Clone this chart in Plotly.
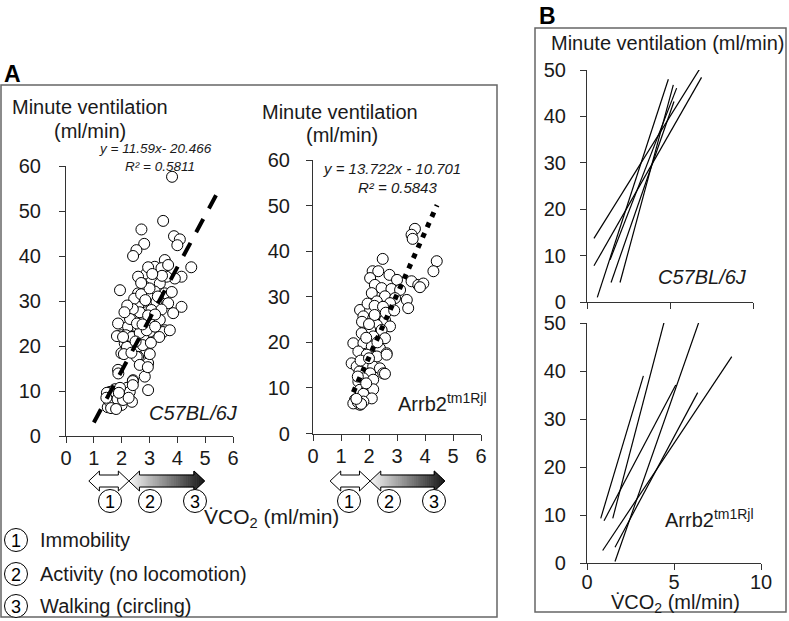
import plotly.graph_objects as go

W, H = 789, 621
FONT = "Liberation Sans, Arial, sans-serif"

# ---------------- data ----------------
wt_x = [3.81,3.49,2.71,2.81,2.53,2.41,3.88,4.09,4.00,1.94,4.50,3.55,3.19,3.43,3.67,2.89,4.15,3.91,3.61,2.59,
        3.07,3.37,2.83,2.59,3.19,3.55,2.95,2.77,3.25,3.67,2.59,3.07,3.43,4.15,3.85,2.47,2.83,3.13,3.37,1.87,
        2.23,2.59,3.55,3.01,1.99,2.35,2.77,2.11,2.59,2.23,2.89,1.99,2.59,2.95,2.83,1.87,1.88,2.41,2.95,
        1.83,2.15,2.37,2.65,2.90,3.48,3.73,2.19,2.08,2.54,2.76,3.01,2.65,2.94,2.40,
        1.58,1.76,1.47,1.65,1.50,1.68,2.00,2.37,2.11,2.19,2.29,2.40,1.94,1.72,1.55,1.85,2.05,1.62,1.80,2.25,1.90,1.45,
        2.45,2.70,2.85,3.00,3.30,2.65,2.95,3.20,2.40,2.30,2.55,2.75,3.20,2.50,2.35,2.70,3.45,2.95,3.10,3.80,2.20,2.10,2.05,3.35,3.05]
wt_y = [57.6,47.8,45.9,42.7,41.3,40.0,44.4,43.7,42.4,32.4,37.5,39.1,37.6,37.3,38.0,36.1,35.4,35.0,35.4,35.4,
        34.3,33.9,33.2,31.7,32.1,31.7,31.0,29.8,29.8,29.5,28.7,28.0,28.1,28.7,27.3,26.5,26.5,26.1,25.8,25.0,
        24.3,23.9,23.5,23.2,22.4,22.1,22.1,20.6,19.8,19.1,18.7,18.4,17.6,16.2,13.2,14.7,13.9,12.4,10.2,
        22.2,22.4,22.0,22.9,23.5,23.1,23.5,19.8,18.2,17.6,20.2,18.2,15.8,15.3,12.2,
        9.8,10.4,9.6,8.4,6.4,7.3,6.9,7.6,9.1,10.7,9.8,11.3,10.7,9.0,7.8,8.2,8.0,6.2,6.0,8.5,9.6,8.5,
        30.5,31.5,30.2,32.8,31.0,27.5,26.8,27.0,28.2,26.0,25.0,24.8,24.3,21.0,18.5,34.0,35.6,37.5,36.0,32.0,29.0,27.5,22.0,22.0,20.7]

ko_x = [3.64,3.52,3.56,2.49,4.42,4.30,2.13,2.33,2.73,3.00,3.52,3.76,3.94,3.82,2.04,2.21,2.45,2.80,3.11,2.10,
        2.57,2.93,3.35,2.28,2.75,3.40,1.68,2.04,2.39,1.80,2.15,2.57,1.86,2.28,2.75,2.04,2.45,1.74,2.15,2.57,
        1.44,1.80,2.10,2.39,2.63,1.62,1.92,2.28,1.38,1.56,1.84,2.15,2.39,1.66,2.04,2.51,1.80,2.15,1.62,1.68,
        1.92,2.15,1.80,2.10,1.50,1.56,1.68,1.44,1.80,2.63,2.57,
        1.95,2.20,2.50,1.90,2.30,1.70,2.00,1.60,1.90,2.20,2.60,2.90,1.75,2.00,1.60,1.72,1.55]
ko_y = [44.9,43.6,42.7,38.3,37.8,35.6,35.6,35.6,34.8,33.7,33.4,32.6,32.9,32.1,34.1,32.6,31.9,31.7,31.5,30.8,
        30.1,29.7,29.3,29.0,28.6,27.5,27.1,27.1,26.8,25.7,25.3,24.9,23.8,23.8,23.5,22.7,22.7,22.0,21.3,20.9,
        19.8,19.8,19.1,18.7,17.6,18.0,17.3,16.9,15.4,14.7,15.1,14.7,14.3,13.6,13.2,13.2,12.1,11.8,11.4,9.6,
        9.6,9.7,8.7,7.7,7.4,6.6,6.3,6.6,7.0,17.3,13.1,
        28.5,28.0,27.8,21.0,20.0,16.0,16.5,12.5,11.0,26.0,26.5,27.0,24.5,24.0,6.9,6.5,7.6]

wt_trend_x = [1.0, 5.4]
wt_trend_y = [3.0, 53.6]
ko_trend_x = [1.44, 4.43]
ko_trend_y = [9.06, 50.1]

wt_eq = ["y = 11.59x- 20.466", "R² = 0.5811"]
ko_eq = ["y = 13.722x - 10.701", "R² = 0.5843"]

# individual regression lines (panel B): [x_start, x_end], [y_start, y_end]
wt_lines_x = [[0.42, 6.8], [0.42, 6.9], [0.62, 4.9], [1.39, 5.4], [1.45, 5.24], [1.99, 5.2]]
wt_lines_y = [[13.7, 50.3], [7.8, 48.4], [1.0, 48.0], [9.1, 46.1], [4.2, 43.2], [4.2, 46.8]]
ko_lines_x = [[0.79, 3.24], [1.48, 4.44], [0.98, 5.1], [1.61, 6.44], [0.90, 8.32], [1.61, 6.36]]
ko_lines_y = [[9.3, 39.0], [9.3, 50.3], [8.8, 37.1], [0.3, 50.3], [2.6, 43.0], [3.3, 35.5]]

# behaviour ranges of VCO2 shown by arrows under panel A
wt_immob = [0.82, 2.26]
wt_active = [2.26, 4.98]
ko_immob = [0.61, 2.04]
ko_active = [2.04, 4.71]

ticks_A = [0, 1, 2, 3, 4, 5, 6]
yticks_A = [0, 10, 20, 30, 40, 50, 60]
ticks_B = [0, 5, 10]
yticks_B = [0, 10, 20, 30, 40, 50]

legend_items = ["Immobility", "Activity (no locomotion)", "Walking (circling)"]
circ_digits = ["1", "2", "3"]

# ---------------- helpers ----------------
def px(x):
    return x / W

def py(y):
    return 1 - y / H

fig = go.Figure()

mk = dict(size=11, color="white", line=dict(color="black", width=1))
fig.add_trace(go.Scatter(x=wt_x, y=wt_y, mode="markers", marker=mk, xaxis="x", yaxis="y", cliponaxis=False))
fig.add_trace(go.Scatter(x=wt_trend_x, y=wt_trend_y, mode="lines",
                         line=dict(color="black", width=4, dash="15px,12px"), xaxis="x", yaxis="y"))
fig.add_trace(go.Scatter(x=ko_x, y=ko_y, mode="markers", marker=mk, xaxis="x2", yaxis="y2", cliponaxis=False))
fig.add_trace(go.Scatter(x=ko_trend_x, y=ko_trend_y, mode="lines",
                         line=dict(color="black", width=5, dash="5px,6.3px"), xaxis="x2", yaxis="y2"))
for lx, ly in zip(wt_lines_x, wt_lines_y):
    fig.add_trace(go.Scatter(x=lx, y=ly, mode="lines", line=dict(color="black", width=1.2),
                             xaxis="x3", yaxis="y3"))
for lx, ly in zip(ko_lines_x, ko_lines_y):
    fig.add_trace(go.Scatter(x=lx, y=ly, mode="lines", line=dict(color="black", width=1.2),
                             xaxis="x4", yaxis="y4"))

def xax(domain, rng, tickvals, anchor, labels=True, standoff=0):
    return dict(domain=domain, range=rng, tickvals=tickvals, anchor=anchor, showline=True,
                linecolor="#333", linewidth=1.2, ticks="outside", ticklen=6, tickcolor="#333",
                showgrid=False, zeroline=False, showticklabels=labels,
                tickfont=dict(family=FONT, size=20, color="#1a1a1a"), ticklabelstandoff=standoff,
                fixedrange=True)

def yax(domain, rng, tickvals, anchor, standoff=8):
    return dict(domain=domain, range=rng, tickvals=tickvals, anchor=anchor, showline=True,
                linecolor="#333", linewidth=1.2, ticks="outside", ticklen=6, tickcolor="#333",
                showgrid=False, zeroline=False,
                tickfont=dict(family=FONT, size=20, color="#1a1a1a"), ticklabelstandoff=standoff,
                fixedrange=True)

layout = dict(
    width=W, height=H, margin=dict(l=0, r=0, t=0, b=0, autoexpand=False),
    paper_bgcolor="white", plot_bgcolor="white", showlegend=False,
    xaxis=xax([px(66), px(233)], [0, 6], ticks_A, "y", standoff=-2),
    yaxis=yax([py(436), py(166)], [0, 60], yticks_A, "x", standoff=14),
    xaxis2=xax([px(313), px(481)], [0, 6], ticks_A, "y2", standoff=-2),
    yaxis2=yax([py(433.5), py(160)], [0, 60], yticks_A, "x2", standoff=12),
    xaxis3=xax([px(587), px(753)], [0, 10], ticks_B, "y3", labels=False),
    yaxis3=yax([py(302), py(70)], [0, 50], yticks_B, "x3", standoff=10),
    xaxis4=xax([px(587), px(761)], [0, 10], ticks_B, "y4", standoff=-5),
    yaxis4=yax([py(563), py(323)], [0, 50], yticks_B, "x4", standoff=10),
)
fig.update_layout(**layout)

shapes = []
# panel frames
shapes.append(dict(type="rect", xref="paper", yref="paper", x0=px(1), x1=px(497), y0=py(617), y1=py(85),
                   line=dict(color="#666", width=1.5), fillcolor="rgba(0,0,0,0)", layer="below"))
shapes.append(dict(type="rect", xref="paper", yref="paper", x0=px(535), x1=px(786), y0=py(612), y1=py(28),
                   line=dict(color="#666", width=1.5), fillcolor="rgba(0,0,0,0)", layer="below"))

# arrows under panel A (x in data units, y in paper)
ARR_Y = 481
HEAD_H, SHAFT_H = 10, 6
HEAD_L = 0.38

def outline(x0, x1):
    pts = [(x0, 0), (x0 + HEAD_L, HEAD_H), (x0 + HEAD_L, SHAFT_H), (x1 - HEAD_L, SHAFT_H),
           (x1 - HEAD_L, HEAD_H), (x1, 0), (x1 - HEAD_L, -HEAD_H), (x1 - HEAD_L, -SHAFT_H),
           (x0 + HEAD_L, -SHAFT_H), (x0 + HEAD_L, -HEAD_H)]
    return "M " + " L ".join(f"{x},{py(ARR_Y - d)}" for x, d in pts) + " Z"

def head_h(x, x0, x1):
    if x <= x0 + HEAD_L + 1e-9 and x - x0 < (x1 - x0) / 2:
        return HEAD_H * (x - x0) / HEAD_L
    return HEAD_H * (x1 - x) / HEAD_L

def add_arrow(rng, xref, gradient):
    x0, x1 = rng
    if gradient:
        n = 36
        bounds = sorted(set([round(x0 + (x1 - x0) * i / n, 6) for i in range(n + 1)]
                            + [round(x0 + HEAD_L, 6), round(x1 - HEAD_L, 6)]))
        for i in range(len(bounds) - 1):
            a, b = bounds[i], bounds[i + 1]
            mid = (a + b) / 2
            if mid < x0 + HEAD_L or mid > x1 - HEAD_L:
                ha, hb = head_h(a, x0, x1), head_h(b, x0, x1)
            else:
                ha = hb = SHAFT_H
            t = (mid - x0) / (x1 - x0)
            g = int(250 - 228 * t)
            col = f"rgb({g},{g},{g})"
            path = (f"M {a},{py(ARR_Y - ha)} L {b},{py(ARR_Y - hb)} L {b},{py(ARR_Y + hb)} "
                    f"L {a},{py(ARR_Y + ha)} Z")
            shapes.append(dict(type="path", xref=xref, yref="paper", path=path, fillcolor=col,
                               line=dict(color=col, width=0.8)))
        shapes.append(dict(type="path", xref=xref, yref="paper", path=outline(x0, x1),
                           fillcolor="rgba(0,0,0,0)", line=dict(color="black", width=1)))
    else:
        shapes.append(dict(type="path", xref=xref, yref="paper", path=outline(x0, x1),
                           fillcolor="white", line=dict(color="black", width=1)))

add_arrow(wt_immob, "x", False)
add_arrow(wt_active, "x", True)
add_arrow(ko_immob, "x2", False)
add_arrow(ko_active, "x2", True)

ann = []
def text(x, y, s, size=20, xanchor="center", yanchor="middle", family=FONT, color="#1a1a1a"):
    ann.append(dict(x=px(x), y=py(y), xref="paper", yref="paper", text=s, showarrow=False,
                    xanchor=xanchor, yanchor=yanchor, font=dict(family=family, size=size, color=color)))

R = 11.5
def circled(cx, cy, d):
    shapes.append(dict(type="circle", xref="paper", yref="paper", x0=px(cx - R), x1=px(cx + R),
                       y0=py(cy + R), y1=py(cy - R), line=dict(color="black", width=1),
                       fillcolor="white"))
    text(cx, cy + 1, d, size=18, color="black")

for cx, d in zip([110, 150, 195], circ_digits):
    circled(cx, 501, d)
for cx, d in zip([349, 389, 434], circ_digits):
    circled(cx, 501, d)
for yy, d, lab in zip([540, 574, 606], circ_digits, legend_items):
    circled(16, yy, d)
    text(38, yy, lab, xanchor="left")

fig.update_layout(shapes=shapes)

text(12, 74, "<b>A</b>", size=23, color="black")
text(547, 16, "<b>B</b>", size=23, color="black")

text(90, 107, "Minute ventilation")
text(90, 131, "(ml/min)")
text(340, 112, "Minute ventilation")
text(342, 135, "(ml/min)")
text(667, 43, "Minute ventilation (ml/min)")

text(155, 149, f"<i>{wt_eq[0]}</i>", size=13.5)
text(160, 167, f"<i>{wt_eq[1]}</i>", size=13.5)
text(392, 168, f"<i>{ko_eq[0]}</i>", size=15)
text(398, 187, f"<i>{ko_eq[1]}</i>", size=15)

text(193, 413, "<i>C57BL/6J</i>")
text(396, 402, "Arrb2<sup>tm1Rjl</sup>", xanchor="left")
text(702, 277, "<i>C57BL/6J</i>")
text(663, 518, "Arrb2<sup>tm1Rjl</sup>", xanchor="left")

text(271, 518, "V\u0307CO<sub>2</sub> (ml/min)", size=21)
text(675, 603, "V\u0307CO<sub>2</sub> (ml/min)", size=20)

fig.update_layout(annotations=ann)
fig.write_html("out.html", config={"displayModeBar": False},
               post_script="document.body.style.margin='0';document.body.style.padding='0';document.body.style.overflow='hidden';")
